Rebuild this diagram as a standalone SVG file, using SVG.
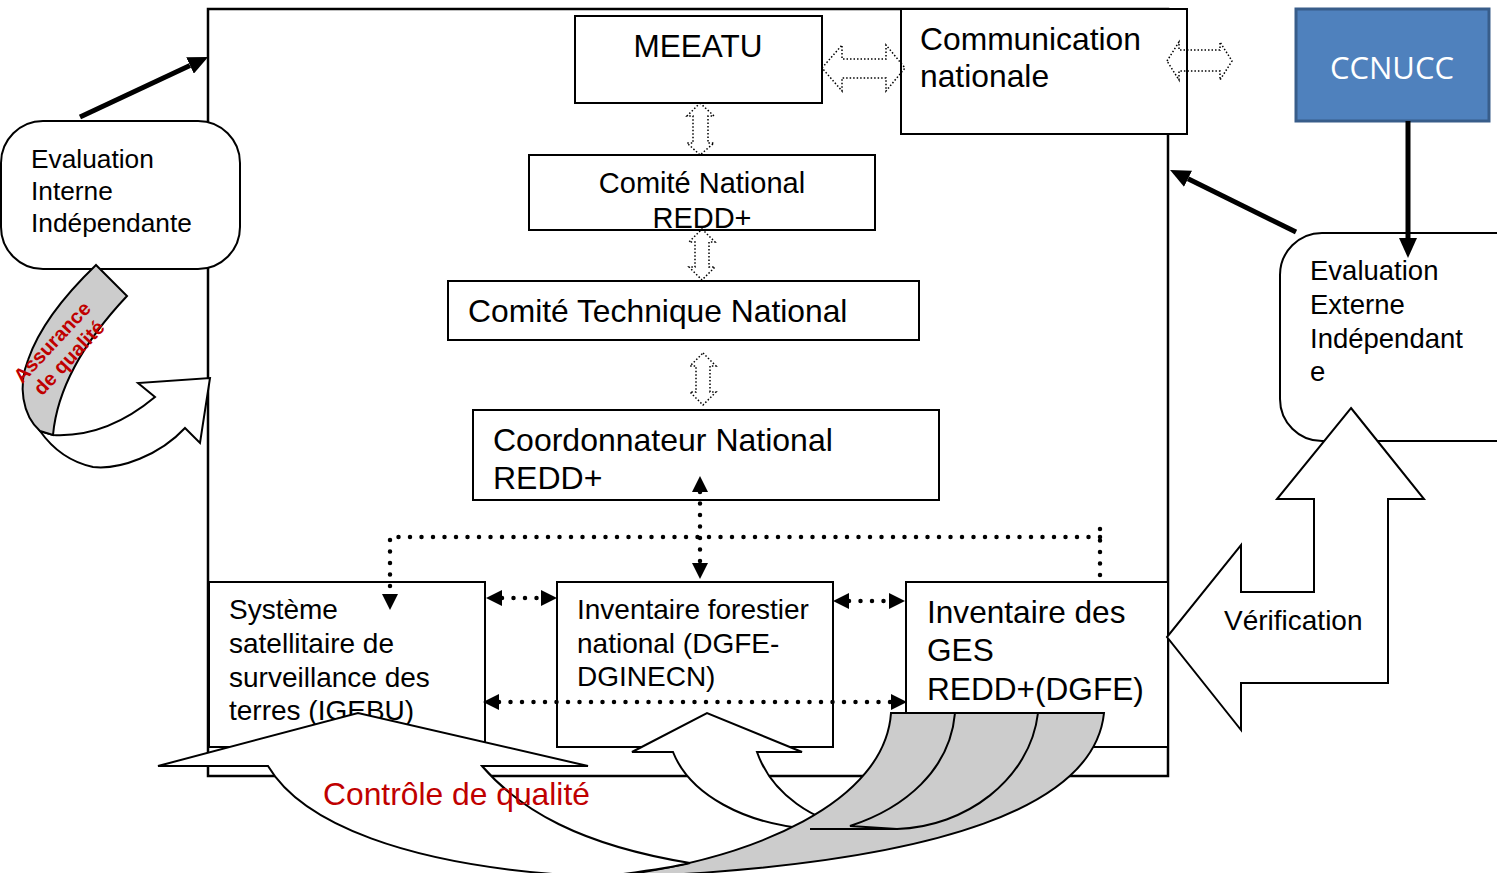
<svg xmlns="http://www.w3.org/2000/svg" width="1497" height="873" viewBox="0 0 1497 873">
<defs>
<marker id="tri" viewBox="0 0 16 16" refX="0" refY="8" markerWidth="16" markerHeight="16" markerUnits="userSpaceOnUse" orient="auto-start-reverse"><path d="M0,0 L16,8 L0,16 Z" fill="#000"/></marker>
<marker id="big" viewBox="0 0 20 18" refX="0" refY="9" markerWidth="20" markerHeight="18" markerUnits="userSpaceOnUse" orient="auto"><path d="M0,0 L20,9 L0,18 Z" fill="#000"/></marker>
</defs>
<style>
.box{fill:#fff;stroke:#000;stroke-width:2}
.t{font-family:"Liberation Sans",Arial,sans-serif;fill:#000}
.dot{fill:none;stroke:#000;stroke-width:4.5;stroke-dasharray:0 11.5;stroke-linecap:round}
.hol{fill:none;stroke:#000;stroke-width:1.5;stroke-dasharray:1.5 2}
.thick{stroke:#000;stroke-width:5;fill:none}
.shape{fill:#fff;stroke:#000;stroke-width:2}
.gray{fill:#cccccc;stroke:#000;stroke-width:2}
.red{fill:#c00000}
</style>
<rect width="1497" height="873" fill="#fff"/>

<g id="cadre">
<rect x="208" y="9" width="960" height="767" fill="none" stroke="#000" stroke-width="2.5"/>
</g>

<g id="meeatu">
<rect class="box" x="575" y="16" width="247" height="87"/>
<text class="t" x="698" y="57" font-size="31.5" text-anchor="middle">MEEATU</text>
</g>
<g id="communication">
<rect class="box" x="901" y="9" width="286" height="125"/>
<text class="t" x="920" y="50" font-size="31.8">Communication</text>
<text class="t" x="920" y="87" font-size="31.8">nationale</text>
</g>
<g id="ccnucc">
<rect x="1296" y="9" width="193" height="112" fill="#4f81bd" stroke="#385d8a" stroke-width="3"/>
<text x="1392" y="79" font-size="31" text-anchor="middle" fill="#fff" font-family="'Open Sans','Liberation Sans',sans-serif">CCNUCC</text>
</g>
<g id="comite-national">
<rect class="box" x="529" y="155" width="346" height="75"/>
<text class="t" x="702" y="193" font-size="29" text-anchor="middle">Comité National</text>
<text class="t" x="702" y="228" font-size="29" text-anchor="middle">REDD+</text>
</g>
<g id="comite-technique">
<rect class="box" x="448" y="281" width="471" height="59"/>
<text class="t" x="468" y="322" font-size="31.8">Comité Technique National</text>
</g>
<g id="coordonnateur">
<rect class="box" x="473" y="410" width="466" height="90"/>
<text class="t" x="493" y="451" font-size="32">Coordonnateur National</text>
<text class="t" x="493" y="489" font-size="32">REDD+</text>
</g>
<g id="systeme">
<rect class="box" x="209" y="582" width="276" height="165"/>
<text class="t" x="229" y="619" font-size="28">Système</text>
<text class="t" x="229" y="653" font-size="28">satellitaire de</text>
<text class="t" x="229" y="687" font-size="28">surveillance des</text>
<text class="t" x="229" y="720" font-size="28">terres (IGEBU)</text>
</g>
<g id="inventaire-forestier">
<rect class="box" x="557" y="582" width="276" height="165"/>
<text class="t" x="577" y="619" font-size="28">Inventaire forestier</text>
<text class="t" x="577" y="653" font-size="28">national (DGFE-</text>
<text class="t" x="577" y="686" font-size="28">DGINECN)</text>
</g>
<g id="inventaire-ges">
<rect class="box" x="906" y="582" width="262" height="165"/>
<text class="t" x="927" y="623" font-size="31.6">Inventaire des</text>
<text class="t" x="927" y="661" font-size="31.6">GES</text>
<text class="t" x="927" y="700" font-size="31.6">REDD+(DGFE)</text>
</g>
<g id="evaluation-interne">
<rect class="box" x="1" y="121" width="239" height="148" rx="42"/>
<text class="t" x="31" y="168" font-size="26.3">Evaluation</text>
<text class="t" x="31" y="200" font-size="26.3">Interne</text>
<text class="t" x="31" y="232" font-size="26.3">Indépendante</text>
</g>
<g id="evaluation-externe">
<rect class="box" x="1280" y="233" width="262" height="208" rx="42"/>
<text class="t" x="1310" y="280" font-size="27.5">Evaluation</text>
<text class="t" x="1310" y="314" font-size="27.5">Externe</text>
<text class="t" x="1310" y="348" font-size="27.5">Indépendant</text>
<text class="t" x="1310" y="381" font-size="27.5">e</text>
</g>

<g id="connecteurs">
<path class="hol" d="M822,68 L842,45 L842,59 L886,59 L886,45 L905,68 L886,91 L886,78 L842,78 L842,91 Z"/>
<path class="hol" d="M1167,61 L1179,42 L1179,50 L1220,50 L1220,42 L1232,61 L1220,80 L1220,71 L1179,71 L1179,80 Z"/>
<path class="hol" d="M700,103 L714,116 L708,116 L708,143 L714,143 L700,155 L687,143 L693,143 L693,116 L687,116 Z"/>
<path class="hol" d="M702,229 L715,242 L709,242 L709,267 L715,267 L702,280 L689,267 L695,267 L695,242 L689,242 Z"/>
<path class="hol" d="M703,353 L716,366 L710,366 L710,392 L716,392 L703,405 L690,392 L696,392 L696,366 L690,366 Z"/>
<line class="thick" x1="80" y1="117" x2="190" y2="65.5" marker-end="url(#big)"/>
<line class="thick" x1="1296" y1="232" x2="1188" y2="178.8" marker-end="url(#big)"/>
<line class="thick" x1="1408" y1="121" x2="1408" y2="238" marker-end="url(#big)"/>
<line class="dot" x1="700" y1="492" x2="700" y2="563" marker-start="url(#tri)" marker-end="url(#tri)"/>
<path class="dot" d="M1100,537 L390,537 L390,594" marker-end="url(#tri)"/>
<line class="dot" x1="1100" y1="529" x2="1100" y2="578"/>
<line class="dot" x1="502" y1="598" x2="541" y2="598" marker-start="url(#tri)" marker-end="url(#tri)"/>
<line class="dot" x1="849" y1="601" x2="889" y2="601" marker-start="url(#tri)" marker-end="url(#tri)"/>
<line class="dot" x1="499" y1="702" x2="891" y2="702" marker-start="url(#tri)" marker-end="url(#tri)"/>
</g>

<g id="assurance-qualite">
<path class="shape" d="M40,431 C52,448 70,462 93,467 C120,470 160,455 185,428 L200,443 L210,378 L138,383 L155,397 C125,422 90,437 53,435 Z"/>
<path class="gray" d="M96,265 L127,296 C95,330 58,380 53,435 L40,431 C22,415 18,385 28,360 C40,325 70,290 96,265 Z"/>
<g transform="translate(52,342) rotate(-47)">
<text x="0" y="7" font-size="20" font-weight="bold" text-anchor="middle" font-family="'Liberation Sans',Arial,sans-serif" class="red">Assurance</text>
<text x="0" y="30" font-size="20" font-weight="bold" text-anchor="middle" font-family="'Liberation Sans',Arial,sans-serif" class="red">de qualité</text>
</g>
</g>

<g id="controle-qualite">
<path class="shape" d="M632,752 L707,713 L802,752 L757,752 C772,795 815,822 855,827 L855,829 L810,829 C745,824 690,795 673,752 Z"/>
<path class="gray" d="M891,713 L1104,713 C1095,800 960,866 600,878 C760,860 885,800 891,713 Z"/>
<path class="gray" d="M955,713 L1038,713 C1030,780 965,827 897,829 L850,826 C905,808 950,770 955,713 Z"/>
<line x1="810" y1="829" x2="897" y2="829" stroke="#000" stroke-width="2"/>
<path class="shape" d="M158,766 L358,713 L588,766 L482,766 C520,810 580,845 690,863 C670,868 640,872 600,877 C400,868 300,820 268,766 Z"/>
<text x="323" y="805" font-size="31.8" font-family="'Liberation Sans',Arial,sans-serif" class="red">Contrôle de qualité</text>
</g>

<g id="verification">
<path class="shape" d="M1351,408 L1424,499 L1388,499 L1388,683 L1241,683 L1241,730 L1167,637 L1241,545 L1241,592 L1314,592 L1314,499 L1277,499 Z"/>
<text class="t" x="1224" y="630" font-size="28">Vérification</text>
</g>
</svg>
